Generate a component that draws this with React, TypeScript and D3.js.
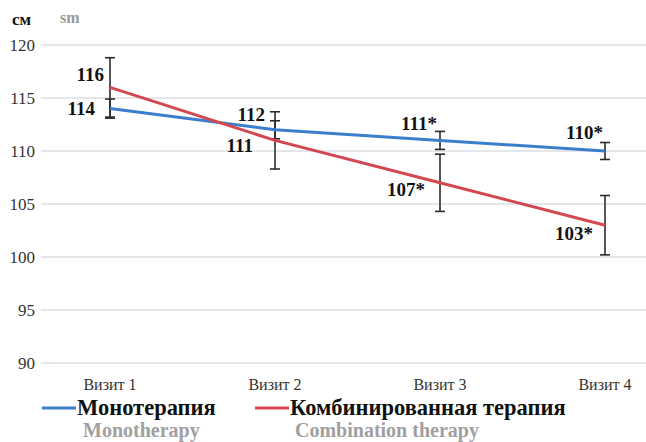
import React from "react";
import * as d3 from "d3";

const visits = ["Визит 1", "Визит 2", "Визит 3", "Визит 4"];
const mono = [114, 112, 111, 110];
const monoErr = [0.9, 0.85, 0.85, 0.8];
const combo = [116, 111, 107, 103];
const comboErr = [2.8, 2.7, 2.7, 2.8];
const monoLabels = ["114", "112", "111*", "110*"];
const comboLabels = ["116", "111", "107*", "103*"];
const yTicks = [90, 95, 100, 105, 110, 115, 120];

const W = 646;
const H = 442;
const serif = "Liberation Serif, Times New Roman, serif";

const App = () => {
  const x = d3.scalePoint<string>().domain(visits).range([110, 605]);
  const y = d3.scaleLinear().domain([90, 120]).range([363, 45]);

  const line = d3
    .line<number>()
    .x((d, i) => x(visits[i]) as number)
    .y((d) => y(d));

  // label offsets (right edge, vertical centre) relative to the point
  const monoOff = [
    [-15, 0],
    [-10, -15],
    [-3, -17],
    [-2, -19],
  ];
  const comboOff = [
    [-6, -13],
    [-22, 5],
    [-15, 7],
    [-12, 8],
  ];

  const errBar = (vals: number[], errs: number[], key: string) =>
    vals.map((v, i) => {
      const cx = x(visits[i]) as number;
      const y1 = y(v + errs[i]);
      const y2 = y(v - errs[i]);
      return (
        <g key={key + i} stroke="#2b2b2b" strokeWidth={1.6}>
          <line x1={cx} x2={cx} y1={y1} y2={y2} />
          <line x1={cx - 5} x2={cx + 5} y1={y1} y2={y1} />
          <line x1={cx - 5} x2={cx + 5} y1={y2} y2={y2} />
        </g>
      );
    });

  const txt = (bold: boolean, size: number) => ({
    fontFamily: serif,
    fontWeight: bold ? 700 : 400,
    fontSize: size,
  });

  return (
    <svg
      width={W}
      height={H}
      style={{ position: "absolute", left: 0, top: 0, background: "#fff" }}
    >
      <text x={12} y={25} style={txt(true, 17)} fill="#111">
        см
      </text>
      <text x={60} y={23} style={txt(true, 16)} fill="#999">
        sm
      </text>

      {yTicks.map((t) => (
        <g key={t}>
          <line x1={41} x2={W} y1={y(t)} y2={y(t)} stroke="#c9d0d6" strokeWidth={1} />
          <text
            x={35}
            y={y(t)}
            dy="0.35em"
            textAnchor="end"
            style={txt(false, 17)}
            fill="#333"
          >
            {t}
          </text>
        </g>
      ))}

      {visits.map((v) => (
        <text
          key={v}
          x={x(v)}
          y={390}
          textAnchor="middle"
          style={txt(false, 16)}
          fill="#333"
        >
          {v}
        </text>
      ))}

      {errBar(combo, comboErr, "c")}
      {errBar(mono, monoErr, "m")}

      <path d={line(mono) || ""} fill="none" stroke="#3b7fcc" strokeWidth={3} />
      <path d={line(combo) || ""} fill="none" stroke="#d2484e" strokeWidth={3} />

      {mono.map((v, i) => (
        <text
          key={"ml" + i}
          x={(x(visits[i]) as number) + monoOff[i][0]}
          y={y(v) + monoOff[i][1]}
          textAnchor="end"
          dy="0.35em"
          style={txt(true, 19)}
          fill="#111"
        >
          {monoLabels[i]}
        </text>
      ))}
      {combo.map((v, i) => (
        <text
          key={"cl" + i}
          x={(x(visits[i]) as number) + comboOff[i][0]}
          y={y(v) + comboOff[i][1]}
          textAnchor="end"
          dy="0.35em"
          style={txt(true, 19)}
          fill="#111"
        >
          {comboLabels[i]}
        </text>
      ))}

      {/* legend */}
      <line x1={42} x2={76} y1={408} y2={408} stroke="#3b7fcc" strokeWidth={3} />
      <text x={77} y={415} style={txt(true, 22.5)} fill="#111">
        Монотерапия
      </text>
      <text x={83} y={437} style={txt(true, 20)} fill="#a0a0a0">
        Monotherapy
      </text>
      <line x1={255} x2={289} y1={408} y2={408} stroke="#d2484e" strokeWidth={3} />
      <text x={290} y={415} style={txt(true, 22.5)} fill="#111">
        Комбинированная терапия
      </text>
      <text x={295} y={437} style={txt(true, 20)} fill="#a0a0a0">
        Combination therapy
      </text>
    </svg>
  );
};

export default App;
